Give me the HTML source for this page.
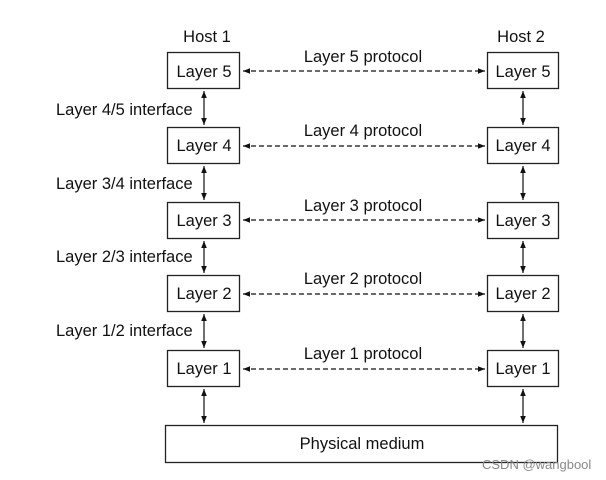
<!DOCTYPE html>
<html><head><meta charset="utf-8"><style>
html,body{margin:0;padding:0;background:#fff;}
svg{display:block;}
text{font-family:"Liberation Sans",Arial,sans-serif;font-size:16.5px;fill:#111;}
</style></head><body>
<svg width="606" height="480" viewBox="0 0 606 480" xmlns="http://www.w3.org/2000/svg">
<defs>
<marker id="a" viewBox="0 0 10 10" refX="10" refY="5" markerWidth="9" markerHeight="7" orient="auto-start-reverse" markerUnits="userSpaceOnUse">
<path d="M0,1 L10,5 L0,9 z" fill="#111"/>
</marker>
</defs>
<g stroke="#222" stroke-width="1.3" fill="#fff">
<rect x="167.5" y="52.5" width="72" height="36"/>
<rect x="487.5" y="52.5" width="71" height="36"/>
<rect x="167.5" y="127.5" width="72" height="36"/>
<rect x="487.5" y="127.5" width="71" height="36"/>
<rect x="167.5" y="202.5" width="72" height="36"/>
<rect x="487.5" y="202.5" width="71" height="36"/>
<rect x="167.5" y="275.5" width="72" height="36"/>
<rect x="487.5" y="275.5" width="71" height="36"/>
<rect x="167.5" y="350.5" width="72" height="36"/>
<rect x="487.5" y="350.5" width="71" height="36"/>
<rect x="165.5" y="425.5" width="392" height="37"/>
</g>
<g stroke="#111" stroke-width="1.2" stroke-dasharray="5,3" marker-start="url(#a)" marker-end="url(#a)">
<line x1="243" y1="71" x2="485" y2="71"/>
<line x1="243" y1="146" x2="485" y2="146"/>
<line x1="243" y1="220" x2="485" y2="220"/>
<line x1="243" y1="294" x2="485" y2="294"/>
<line x1="243" y1="369" x2="485" y2="369"/>
</g>
<g stroke="#111" stroke-width="1.2" marker-start="url(#a)" marker-end="url(#a)">
<line x1="204" y1="91" x2="204" y2="125"/>
<line x1="523" y1="91" x2="523" y2="125"/>
<line x1="204" y1="166" x2="204" y2="200"/>
<line x1="523" y1="166" x2="523" y2="200"/>
<line x1="204" y1="241" x2="204" y2="273"/>
<line x1="523" y1="241" x2="523" y2="273"/>
<line x1="204" y1="314" x2="204" y2="348"/>
<line x1="523" y1="314" x2="523" y2="348"/>
<line x1="204" y1="389" x2="204" y2="423"/>
<line x1="523" y1="389" x2="523" y2="423"/>
</g>
<text x="207" y="42" text-anchor="middle">Host 1</text>
<text x="521" y="42" text-anchor="middle">Host 2</text>
<g text-anchor="middle">
<text x="204" y="77">Layer 5</text><text x="523" y="77">Layer 5</text>
<text x="204" y="151">Layer 4</text><text x="523" y="151">Layer 4</text>
<text x="204" y="226">Layer 3</text><text x="523" y="226">Layer 3</text>
<text x="204" y="299">Layer 2</text><text x="523" y="299">Layer 2</text>
<text x="204" y="374">Layer 1</text><text x="523" y="374">Layer 1</text>
<text x="363" y="62">Layer 5 protocol</text>
<text x="363" y="136">Layer 4 protocol</text>
<text x="363" y="211">Layer 3 protocol</text>
<text x="363" y="284">Layer 2 protocol</text>
<text x="363" y="359">Layer 1 protocol</text>
<text x="362" y="449">Physical medium</text>
</g>
<text x="56" y="115">Layer 4/5 interface</text>
<text x="56" y="189">Layer 3/4 interface</text>
<text x="56" y="262">Layer 2/3 interface</text>
<text x="56" y="336">Layer 1/2 interface</text>
<text x="482" y="469" style="font-size:13px;fill:#888;">CSDN @wangbool</text>
</svg>
</body></html>
